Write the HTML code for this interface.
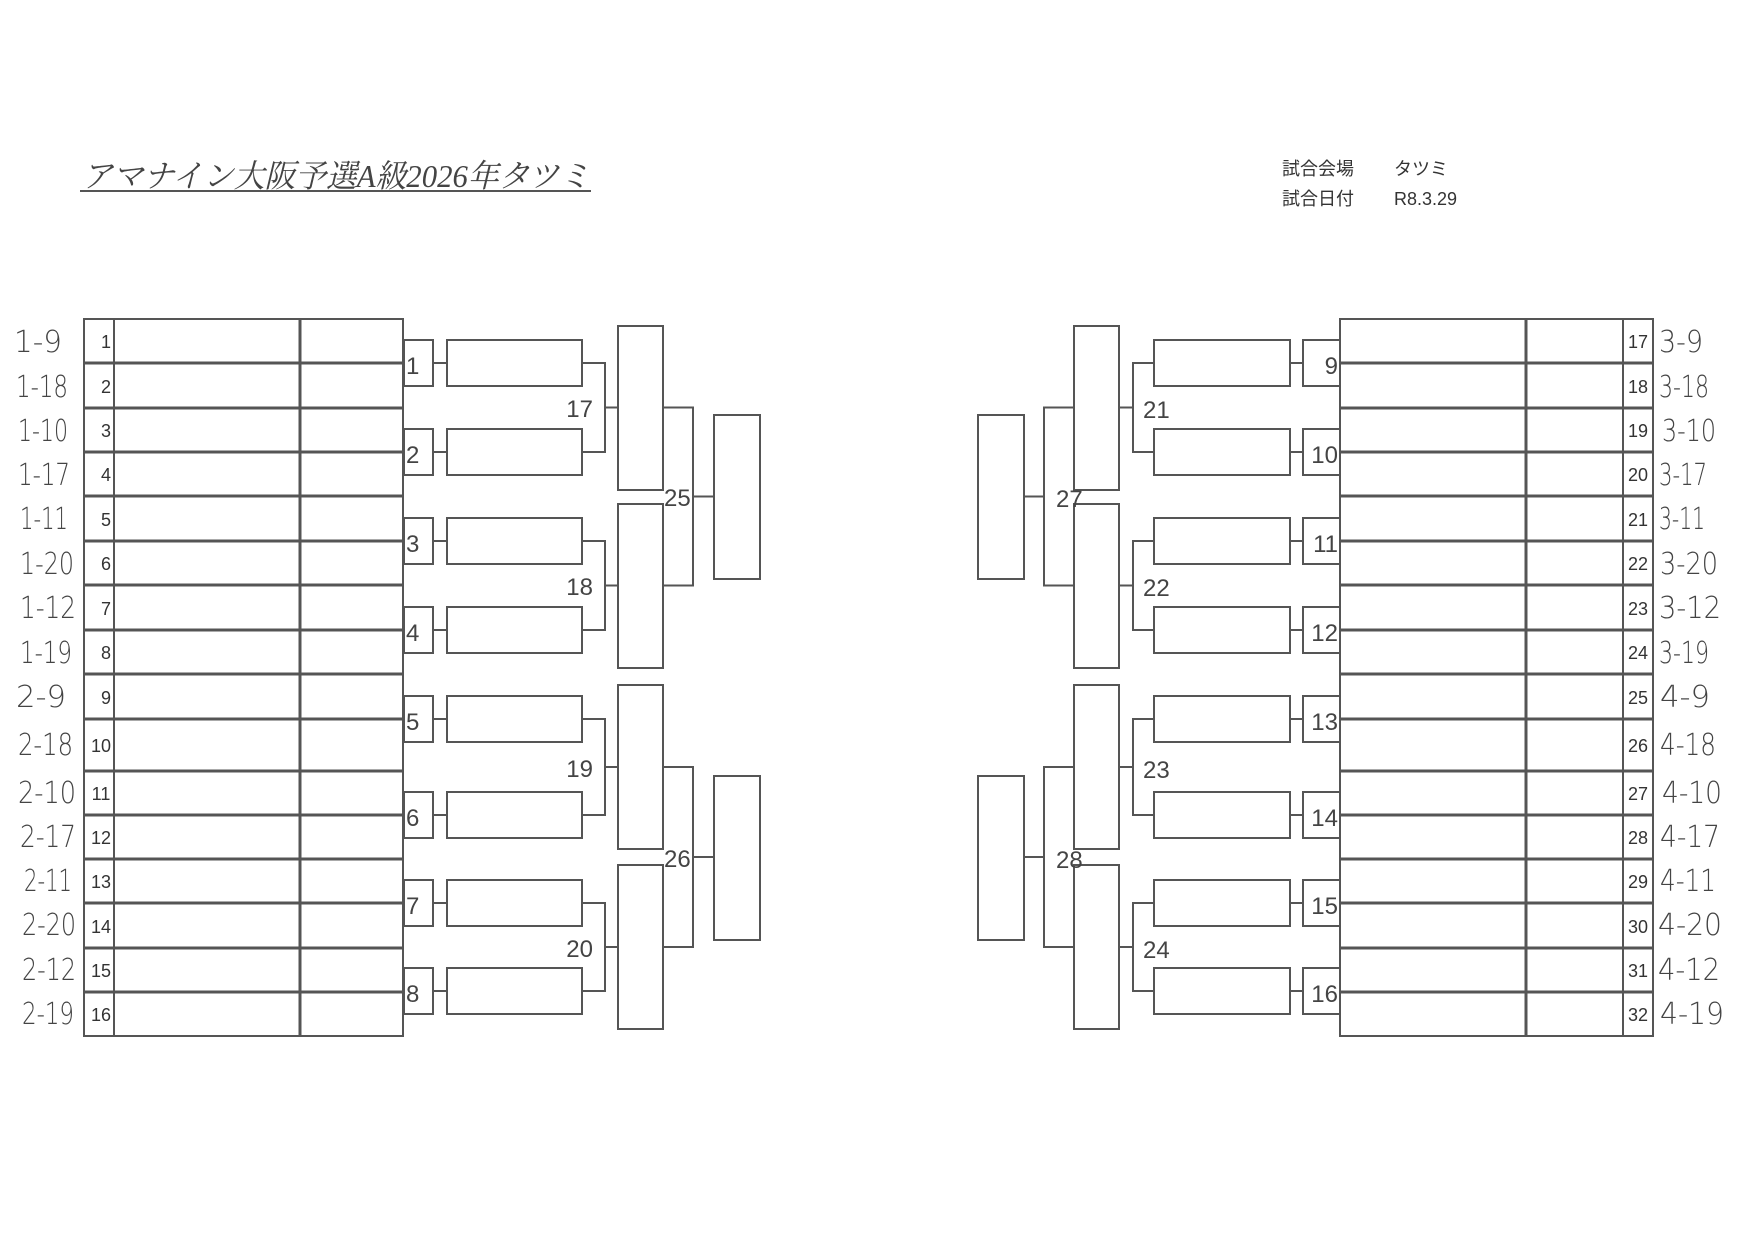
<!DOCTYPE html>
<html><head><meta charset="utf-8"><style>
html,body{margin:0;padding:0;background:#fff;}
svg{display:block;}
.n{font-family:"Liberation Sans",sans-serif;font-size:18px;fill:#333;}
.b{font-family:"Liberation Sans",sans-serif;font-size:24px;fill:#444;}
.h{font-family:"DejaVu Sans","Liberation Sans",sans-serif;font-size:30px;fill:#444;font-weight:200;}
</style></head><body>
<svg width="1754" height="1240" viewBox="0 0 1754 1240" xmlns="http://www.w3.org/2000/svg">
<rect width="1754" height="1240" fill="#fff"/>
<text x="82" y="187" font-family="'Liberation Serif','Noto Serif CJK JP',serif" font-size="32" font-style="italic" fill="#444" textLength="508" lengthAdjust="spacingAndGlyphs">アマナイン大阪予選A級2026年タツミ</text>
<line x1="80" y1="191" x2="591" y2="191" stroke="#555" stroke-width="2"/>
<text x="1282" y="175" font-family="'Liberation Sans','Noto Sans CJK JP',sans-serif" font-size="18" fill="#333">試合会場</text>
<text x="1394" y="175" font-family="'Liberation Sans','Noto Sans CJK JP',sans-serif" font-size="18" fill="#333">タツミ</text>
<text x="1282" y="205" font-family="'Liberation Sans','Noto Sans CJK JP',sans-serif" font-size="18" fill="#333">試合日付</text>
<text x="1394" y="205" font-family="'Liberation Sans','Noto Sans CJK JP',sans-serif" font-size="18" fill="#333">R8.3.29</text>

<g fill="none" stroke="#555" stroke-width="2">
<rect x="84" y="319" width="319" height="717"/>
<line x1="114" y1="319" x2="114" y2="1036"/>
<line x1="300" y1="319" x2="300" y2="1036" stroke-width="3"/>
<g stroke-width="3">
<line x1="84" y1="363" x2="403" y2="363"/><line x1="84" y1="408" x2="403" y2="408"/>
<line x1="84" y1="452" x2="403" y2="452"/><line x1="84" y1="496" x2="403" y2="496"/>
<line x1="84" y1="541" x2="403" y2="541"/><line x1="84" y1="585" x2="403" y2="585"/>
<line x1="84" y1="630" x2="403" y2="630"/><line x1="84" y1="674" x2="403" y2="674"/>
<line x1="84" y1="719" x2="403" y2="719"/><line x1="84" y1="771" x2="403" y2="771"/>
<line x1="84" y1="815" x2="403" y2="815"/><line x1="84" y1="859" x2="403" y2="859"/>
<line x1="84" y1="903" x2="403" y2="903"/><line x1="84" y1="948" x2="403" y2="948"/>
<line x1="84" y1="992" x2="403" y2="992"/>
</g>
<rect x="1340" y="319" width="313" height="717"/>
<line x1="1623" y1="319" x2="1623" y2="1036"/>
<line x1="1526" y1="319" x2="1526" y2="1036" stroke-width="3"/>
<g stroke-width="3">
<line x1="1340" y1="363" x2="1653" y2="363"/><line x1="1340" y1="408" x2="1653" y2="408"/>
<line x1="1340" y1="452" x2="1653" y2="452"/><line x1="1340" y1="496" x2="1653" y2="496"/>
<line x1="1340" y1="541" x2="1653" y2="541"/><line x1="1340" y1="585" x2="1653" y2="585"/>
<line x1="1340" y1="630" x2="1653" y2="630"/><line x1="1340" y1="674" x2="1653" y2="674"/>
<line x1="1340" y1="719" x2="1653" y2="719"/><line x1="1340" y1="771" x2="1653" y2="771"/>
<line x1="1340" y1="815" x2="1653" y2="815"/><line x1="1340" y1="859" x2="1653" y2="859"/>
<line x1="1340" y1="903" x2="1653" y2="903"/><line x1="1340" y1="948" x2="1653" y2="948"/>
<line x1="1340" y1="992" x2="1653" y2="992"/>
</g>

<rect x="404" y="340" width="29" height="46"/><rect x="447" y="340" width="135" height="46"/><line x1="433" y1="363" x2="447" y2="363"/>
<rect x="404" y="429" width="29" height="46"/><rect x="447" y="429" width="135" height="46"/><line x1="433" y1="452" x2="447" y2="452"/>
<rect x="404" y="518" width="29" height="46"/><rect x="447" y="518" width="135" height="46"/><line x1="433" y1="541" x2="447" y2="541"/>
<rect x="404" y="607" width="29" height="46"/><rect x="447" y="607" width="135" height="46"/><line x1="433" y1="630" x2="447" y2="630"/>
<rect x="404" y="696" width="29" height="46"/><rect x="447" y="696" width="135" height="46"/><line x1="433" y1="719" x2="447" y2="719"/>
<rect x="404" y="792" width="29" height="46"/><rect x="447" y="792" width="135" height="46"/><line x1="433" y1="815" x2="447" y2="815"/>
<rect x="404" y="880" width="29" height="46"/><rect x="447" y="880" width="135" height="46"/><line x1="433" y1="903" x2="447" y2="903"/>
<rect x="404" y="968" width="29" height="46"/><rect x="447" y="968" width="135" height="46"/><line x1="433" y1="991" x2="447" y2="991"/>
<path d="M582 363H605V452H582M605 407.5H618"/>
<path d="M582 541H605V630H582M605 585.5H618"/>
<path d="M582 719H605V815H582M605 767H618"/>
<path d="M582 903H605V991H582M605 947H618"/>
<rect x="618" y="326" width="45" height="164"/>
<rect x="618" y="504" width="45" height="164"/>
<rect x="618" y="685" width="45" height="164"/>
<rect x="618" y="865" width="45" height="164"/>
<path d="M663 407.5H693V585.5H663M693 496.5H714"/>
<path d="M663 767H693V947H663M693 857H714"/>
<rect x="714" y="415" width="46" height="164"/>
<rect x="714" y="776" width="46" height="164"/>

<rect x="1303" y="340" width="37" height="46"/><rect x="1154" y="340" width="136" height="46"/><line x1="1290" y1="363" x2="1303" y2="363"/>
<rect x="1303" y="429" width="37" height="46"/><rect x="1154" y="429" width="136" height="46"/><line x1="1290" y1="452" x2="1303" y2="452"/>
<rect x="1303" y="518" width="37" height="46"/><rect x="1154" y="518" width="136" height="46"/><line x1="1290" y1="541" x2="1303" y2="541"/>
<rect x="1303" y="607" width="37" height="46"/><rect x="1154" y="607" width="136" height="46"/><line x1="1290" y1="630" x2="1303" y2="630"/>
<rect x="1303" y="696" width="37" height="46"/><rect x="1154" y="696" width="136" height="46"/><line x1="1290" y1="719" x2="1303" y2="719"/>
<rect x="1303" y="792" width="37" height="46"/><rect x="1154" y="792" width="136" height="46"/><line x1="1290" y1="815" x2="1303" y2="815"/>
<rect x="1303" y="880" width="37" height="46"/><rect x="1154" y="880" width="136" height="46"/><line x1="1290" y1="903" x2="1303" y2="903"/>
<rect x="1303" y="968" width="37" height="46"/><rect x="1154" y="968" width="136" height="46"/><line x1="1290" y1="991" x2="1303" y2="991"/>
<path d="M1154 363H1133V452H1154M1133 407.5H1119"/>
<path d="M1154 541H1133V630H1154M1133 585.5H1119"/>
<path d="M1154 719H1133V815H1154M1133 767H1119"/>
<path d="M1154 903H1133V991H1154M1133 947H1119"/>
<rect x="1074" y="326" width="45" height="164"/>
<rect x="1074" y="504" width="45" height="164"/>
<rect x="1074" y="685" width="45" height="164"/>
<rect x="1074" y="865" width="45" height="164"/>
<path d="M1074 407.5H1044V585.5H1074M1044 496.5H1024"/>
<path d="M1074 767H1044V947H1074M1044 857H1024"/>
<rect x="978" y="415" width="46" height="164"/>
<rect x="978" y="776" width="46" height="164"/>
</g>

<g class="n" text-anchor="middle">
<text x="106" y="348">1</text><text x="106" y="393">2</text><text x="106" y="437">3</text><text x="106" y="481">4</text>
<text x="106" y="526">5</text><text x="106" y="570">6</text><text x="106" y="615">7</text><text x="106" y="659">8</text>
<text x="106" y="704">9</text><text x="101" y="752">10</text><text x="101" y="800">11</text><text x="101" y="844">12</text>
<text x="101" y="888">13</text><text x="101" y="933">14</text><text x="101" y="977">15</text><text x="101" y="1021">16</text>
</g>
<g class="n" text-anchor="middle">
<text x="1638" y="348">17</text><text x="1638" y="393">18</text><text x="1638" y="437">19</text><text x="1638" y="481">20</text>
<text x="1638" y="526">21</text><text x="1638" y="570">22</text><text x="1638" y="615">23</text><text x="1638" y="659">24</text>
<text x="1638" y="704">25</text><text x="1638" y="752">26</text><text x="1638" y="800">27</text><text x="1638" y="844">28</text>
<text x="1638" y="888">29</text><text x="1638" y="933">30</text><text x="1638" y="977">31</text><text x="1638" y="1021">32</text>
</g>
<g class="b">
<text x="406" y="374">1</text><text x="406" y="463">2</text><text x="406" y="552">3</text><text x="406" y="641">4</text>
<text x="406" y="730">5</text><text x="406" y="826">6</text><text x="406" y="914">7</text><text x="406" y="1002">8</text>
</g>
<g class="b" text-anchor="end">
<text x="593" y="417">17</text><text x="593" y="595">18</text><text x="593" y="777">19</text><text x="593" y="957">20</text>
<text x="1338" y="374">9</text><text x="1338" y="463">10</text><text x="1338" y="552">11</text><text x="1338" y="641">12</text>
<text x="1338" y="730">13</text><text x="1338" y="826">14</text><text x="1338" y="914">15</text><text x="1338" y="1002">16</text>
</g>
<g class="b">
<text x="664" y="506">25</text><text x="664" y="867">26</text>
<text x="1143" y="418">21</text><text x="1143" y="596">22</text><text x="1143" y="778">23</text><text x="1143" y="958">24</text>
<text x="1056" y="507">27</text><text x="1056" y="868">28</text>
</g>
<g class="h">
<text x="14" y="352" textLength="48" lengthAdjust="spacingAndGlyphs">1-9</text><text x="16" y="397" textLength="52" lengthAdjust="spacingAndGlyphs">1-18</text>
<text x="18" y="441" textLength="50" lengthAdjust="spacingAndGlyphs">1-10</text><text x="18" y="485" textLength="52" lengthAdjust="spacingAndGlyphs">1-17</text>
<text x="20" y="529" textLength="48" lengthAdjust="spacingAndGlyphs">1-11</text><text x="20" y="574" textLength="54" lengthAdjust="spacingAndGlyphs">1-20</text>
<text x="20" y="618" textLength="56" lengthAdjust="spacingAndGlyphs">1-12</text><text x="20" y="663" textLength="52" lengthAdjust="spacingAndGlyphs">1-19</text>
<text x="16" y="707" textLength="50" lengthAdjust="spacingAndGlyphs">2-9</text><text x="18" y="755" textLength="55" lengthAdjust="spacingAndGlyphs">2-18</text>
<text x="18" y="803" textLength="58" lengthAdjust="spacingAndGlyphs">2-10</text><text x="20" y="847" textLength="56" lengthAdjust="spacingAndGlyphs">2-17</text>
<text x="24" y="891" textLength="48" lengthAdjust="spacingAndGlyphs">2-11</text><text x="22" y="935" textLength="54" lengthAdjust="spacingAndGlyphs">2-20</text>
<text x="22" y="980" textLength="54" lengthAdjust="spacingAndGlyphs">2-12</text><text x="22" y="1024" textLength="52" lengthAdjust="spacingAndGlyphs">2-19</text>
</g>
<g class="h">
<text x="1659" y="352" textLength="44" lengthAdjust="spacingAndGlyphs">3-9</text><text x="1659" y="397" textLength="50" lengthAdjust="spacingAndGlyphs">3-18</text>
<text x="1662" y="441" textLength="54" lengthAdjust="spacingAndGlyphs">3-10</text><text x="1659" y="485" textLength="48" lengthAdjust="spacingAndGlyphs">3-17</text>
<text x="1659" y="529" textLength="46" lengthAdjust="spacingAndGlyphs">3-11</text><text x="1660" y="574" textLength="58" lengthAdjust="spacingAndGlyphs">3-20</text>
<text x="1659" y="618" textLength="62" lengthAdjust="spacingAndGlyphs">3-12</text><text x="1659" y="663" textLength="50" lengthAdjust="spacingAndGlyphs">3-19</text>
<text x="1660" y="707" textLength="50" lengthAdjust="spacingAndGlyphs">4-9</text><text x="1660" y="755" textLength="56" lengthAdjust="spacingAndGlyphs">4-18</text>
<text x="1662" y="803" textLength="60" lengthAdjust="spacingAndGlyphs">4-10</text><text x="1660" y="847" textLength="60" lengthAdjust="spacingAndGlyphs">4-17</text>
<text x="1660" y="891" textLength="56" lengthAdjust="spacingAndGlyphs">4-11</text><text x="1658" y="935" textLength="64" lengthAdjust="spacingAndGlyphs">4-20</text>
<text x="1658" y="980" textLength="62" lengthAdjust="spacingAndGlyphs">4-12</text><text x="1660" y="1024" textLength="64" lengthAdjust="spacingAndGlyphs">4-19</text>
</g>
</svg>
</body></html>
